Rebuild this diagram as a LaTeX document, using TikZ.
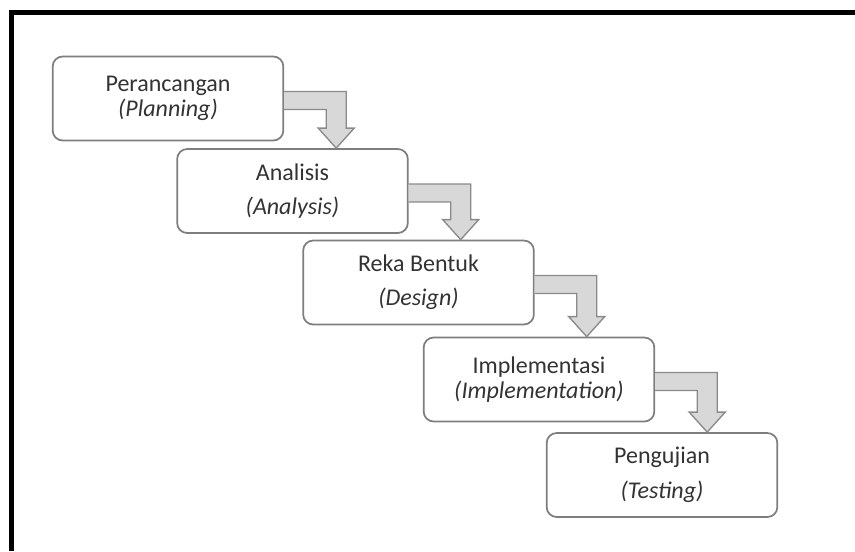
\documentclass[tikz,border=0pt]{standalone}
\usepackage{fontspec}
\setmainfont{Carlito}
\usepackage{tikz}
\usetikzlibrary{calc}

\definecolor{boxline}{HTML}{7E7E7E}
\definecolor{flowfill}{HTML}{D8D8D8}
\definecolor{flowline}{HTML}{8A8A8A}
\definecolor{txt}{HTML}{333333}

\tikzset{
  phase/.style={draw=boxline, line width=1.3pt, fill=white, rounded corners=7.5pt,
    minimum width=173pt, minimum height=63pt, align=center, text=txt,
    font=\fontsize{18}{22}\selectfont},
  flow/.style={draw=flowline, fill=flowfill, line width=1pt, line join=miter}
}

\begin{document}
\begin{tikzpicture}[x=0.75pt, y=-0.75pt]
        \useasboundingbox (0,0) rectangle (855,551);
        % frame
        \draw[line width=3.8pt] (11.5,551) -- (11.5,12.5) -- (855,12.5);

        \node[phase] (p1) at (168,98.5) {Perancangan\\[-3pt]\textit{(Planning)}};
        \node[phase] (p2) at (292.5,191) {Analisis\\[4pt]\textit{(Analysis)}};
        \node[phase] (p3) at (418.5,282.5) {Reka Bentuk\\[3.5pt]\textit{(Design)}};
        \node[phase] (p4) at (539,379.5) {Implementasi\\[-3pt]\textit{(Implementation)}};
        \node[phase] (p5) at (662,475) {Pengujian\\[4.5pt]\textit{(Testing)}};

        % bent arrows between the phases
        \foreach \a/\b in {p1/p2, p2/p3, p3/p4, p4/p5} {
          \coordinate (t) at ($(\a.east)+(52,0)$);
          \coordinate (h) at (t |- \b.north);
          \filldraw[flow] ($(\a.east)+(0,-7)$) -- ($(t)+(10,-7)$) -- ($(h)+(10,-20)$)
            -- ($(h)+(18,-20)$) -- (h) -- ($(h)+(-18,-20)$) -- ($(h)+(-10,-20)$)
            -- ($(t)+(-10,11)$) -- ($(\a.east)+(0,11)$);
        }
      \end{tikzpicture}
\end{document}
